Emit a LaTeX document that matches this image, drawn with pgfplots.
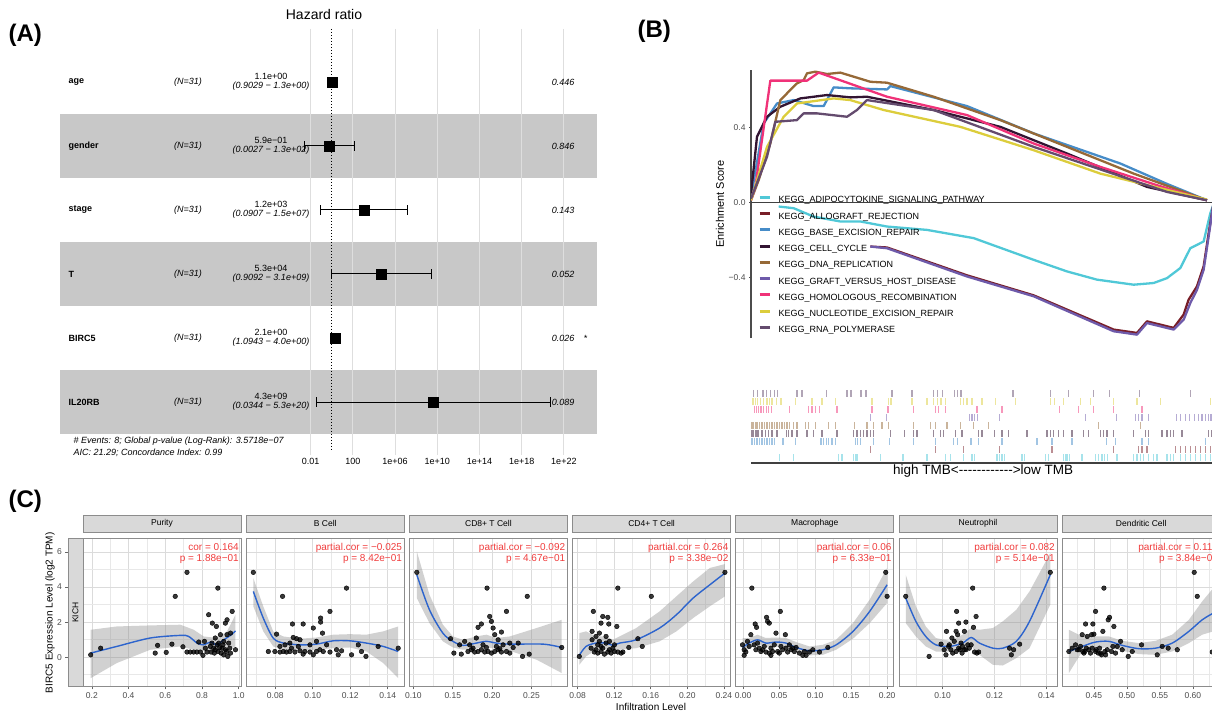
\documentclass[border=0pt]{standalone}
\usepackage{fontspec}
\setmainfont{Liberation Sans}
\newfontfamily\plainsans{Liberation Sans}[Ligatures=TeXOff]
\usepackage{pgfplots}
\pgfplotsset{compat=1.18}

\definecolor{bandgray}{RGB}{200,200,200}
\definecolor{stripgray}{RGB}{217,217,217}
\definecolor{corred}{RGB}{240,60,60}
\definecolor{loessblue}{RGB}{45,100,205}
\definecolor{cAdipo}{RGB}{80,200,215}
\definecolor{cAllo}{RGB}{120,30,40}
\definecolor{cBase}{RGB}{70,140,200}
\definecolor{cCell}{RGB}{50,20,50}
\definecolor{cDNA}{RGB}{150,105,55}
\definecolor{cGraft}{RGB}{110,90,170}
\definecolor{cHomo}{RGB}{240,50,120}
\definecolor{cNucl}{RGB}{220,205,60}
\definecolor{cRNA}{RGB}{100,75,110}

\newcommand{\fs}[2]{\fontsize{#1}{#2}\selectfont}

\pgfplotsset{
  facet/.style={
    scale only axis, width=158pt, height=148pt,
    ymin=-1.69, ymax=6.76, ytick={0,2,4,6}, minor ytick={-1,1,3,5}, yticklabels={},
    grid=both, major grid style={black!14, line width=0.55pt},
    minor grid style={black!9, line width=0.4pt},
    axis line style={black!45, line width=0.8pt},
    xtick pos=left, ytick style={draw=none}, tick align=outside,
    major tick length=2.6pt, minor tick length=0pt,
    xtick style={black!60, line width=0.6pt},
    xticklabel style={font=\fs{8.5}{9}, text=black!70},
    title style={at={(0.5,1)}, anchor=south, yshift=0.4pt, fill=stripgray,
      draw=black!45, line width=0.8pt, minimum width=158pt, minimum height=16.5pt,
      inner sep=0pt, font=\fs{8.5}{9}},
  },
  pts/.style={only marks, mark=*, mark size=2.3pt,
    mark options={draw=none, fill=black, fill opacity=0.78}},
  loess/.style={smooth, loessblue, line width=1.4pt},
  ribbon/.style={draw=none, fill=black!45, fill opacity=0.4},
  es/.style={line width=2.3pt, line join=round},
  rug/.style={only marks, mark=|, mark size=3.4pt,
    mark options={line width=1.1pt, opacity=0.5}},
  ci/.style={black, line width=1pt, mark=|, mark size=4.6pt, mark options={solid}},
}
\tikzset{cortext/.style={anchor=north east, align=right, text=corred,
  font=\fs{10}{10.5}, inner sep=0pt}}

\begin{document}
\begin{tikzpicture}[x=1pt,y=1pt]

% ================= (A) forest plot =================
\begin{axis}[
  at={(59.8pt,258pt)}, anchor=south west,
  scale only axis, width=537.2pt, height=426pt,
  set layers,
  xmode=log, xmin=1.66e-26, xmax=1.38e25,
  ymin=0.172, ymax=6.828, y dir=reverse,
  axis line style={draw=none},
  ytick=\empty,
  xtick={1e-2,1e2,1e6,1e10,1e14,1e18,1e22},
  xticklabels={0.01,100,1e+06,1e+10,1e+14,1e+18,1e+22},
  major tick length=0pt,
  xmajorgrids, grid style={black!13, line width=0.8pt},
  xticklabel style={font=\fs{9}{10}},
  clip=false,
]
\begin{pgfonlayer}{axis background}
\fill[bandgray] (axis cs:1.66e-26,1.5) rectangle (axis cs:1.38e25,2.5);
\fill[bandgray] (axis cs:1.66e-26,3.5) rectangle (axis cs:1.38e25,4.5);
\fill[bandgray] (axis cs:1.66e-26,5.5) rectangle (axis cs:1.38e25,6.5);
\end{pgfonlayer}
\addplot[black, line width=1pt, dash pattern=on 1pt off 2pt] coordinates {(1,0.172) (1,6.77)};
% confidence intervals
\addplot[ci] coordinates {(0.9029,1) (1.3,1)};
\addplot[ci] coordinates {(0.0027,2) (130,2)};
\addplot[ci] coordinates {(0.0907,3) (1.5e7,3)};
\addplot[ci] coordinates {(0.9092,4) (3.1e9,4)};
\addplot[ci] coordinates {(1.0943,5) (4.0,5)};
\addplot[ci] coordinates {(0.0344,6) (5.3e20,6)};
% hazard ratios
\addplot[only marks, mark=square*, mark size=5pt, black] coordinates {(1.1,1) (0.59,2) (1200,3) (53000,4) (2.1,5) (4.3e9,6)};
\end{axis}

\node[anchor=west, font=\bfseries\fs{24}{26}] at (5,678) {(A)};
\node[font=\fs{14}{15}] at (324,698) {Hazard ratio};

\begin{scope}[every node/.style={font=\fs{9}{8.6}}]
\node[anchor=west, font=\bfseries\fs{9}{8.6}] at (65,631) {age};
\node[anchor=west, font=\bfseries\fs{9}{8.6}] at (65,567) {gender};
\node[anchor=west, font=\bfseries\fs{9}{8.6}] at (65,503) {stage};
\node[anchor=west, font=\bfseries\fs{9}{8.6}] at (65,439) {T};
\node[anchor=west, font=\bfseries\fs{9}{8.6}] at (65,375) {BIRC5};
\node[anchor=west, font=\bfseries\fs{9}{8.6}] at (65,311) {IL20RB};
\foreach \yy in {631,567,503,439,375,311} \node[font=\itshape\fs{9}{8.6}] at (188,\yy) {(N=31)};
\node[align=center] at (271,631) {1.1e+00\\\itshape(0.9029 − 1.3e+00)};
\node[align=center] at (271,567) {5.9e−01\\\itshape(0.0027 − 1.3e+02)};
\node[align=center] at (271,503) {1.2e+03\\\itshape(0.0907 − 1.5e+07)};
\node[align=center] at (271,439) {5.3e+04\\\itshape(0.9092 − 3.1e+09)};
\node[align=center] at (271,375) {2.1e+00\\\itshape(1.0943 − 4.0e+00)};
\node[align=center] at (271,311) {4.3e+09\\\itshape(0.0344 − 5.3e+20)};
\node[anchor=east, font=\itshape\fs{9}{8.6}] at (578,631) {0.446};
\node[anchor=east, font=\itshape\fs{9}{8.6}] at (578,567) {0.846};
\node[anchor=east, font=\itshape\fs{9}{8.6}] at (578,503) {0.143};
\node[anchor=east, font=\itshape\fs{9}{8.6}] at (578,439) {0.052};
\node[anchor=east, font=\itshape\fs{9}{8.6}] at (578,375) {0.026};
\node[anchor=west, font=\itshape\fs{9}{8.6}] at (580,375) {*};
\node[anchor=east, font=\itshape\fs{9}{8.6}] at (578,311) {0.089};
\node[anchor=west, font=\itshape\fs{9}{8.6}] at (70,272) {\# Events: 8; Global p-value (Log-Rank): 3.5718e−07};
\node[anchor=west, font=\itshape\fs{9}{8.6}] at (70,260) {AIC: 21.29; Concordance Index: 0.99};
\end{scope}

% ================= (B) GSEA =================
\node[anchor=west, font=\bfseries\fs{24}{26}] at (634,682) {(B)};

\begin{axis}[
  at={(751pt,375pt)}, anchor=south west,
  scale only axis, width=464.3pt, height=268pt,
  xmin=152, xmax=1545, ymin=-0.724, ymax=0.709,
  axis x line=none, axis y line=left,
  axis line style={-, line width=1.3pt, black!70},
  xtick=\empty, ytick={-0.4,0,0.4}, yticklabels={−0.4,0.0,0.4},
  yticklabel style={font=\fs{8.5}{9}, text=black!70},
  tick align=outside, major tick length=2pt,
  ytick style={black!70, line width=0.8pt},
  ylabel={Enrichment Score},
  ylabel style={font=\fs{11}{12}, at={(axis description cs:-0.067,0.5)}, anchor=center},
  legend style={at={(0.0151,0.53)}, anchor=north west, draw=none, fill=none,
    inner sep=0pt, outer sep=0pt, row sep=7.75pt, font=\fs{9}{9},
    nodes={inner sep=0pt, text height=6.5pt, text depth=1.5pt}},
  legend cell align=left,
  legend image code/.code={\draw[#1, line width=3pt, line cap=butt] (0pt,3pt) -- (10pt,3pt); \path (18pt,0pt);},
]
\addplot[forget plot, black!75, line width=1.4pt] coordinates {(152,0) (1545,0)};
\addplot[es, cAdipo] coordinates {(235,-0.021) (280,-0.030) (340,-0.075) (420,-0.101) (480,-0.101) (560,-0.128) (680,-0.146) (820,-0.190) (1000,-0.306) (1100,-0.368) (1190,-0.412) (1300,-0.439) (1360,-0.430) (1400,-0.404) (1440,-0.350) (1470,-0.244) (1510,-0.208) (1530,-0.057) (1542,0)};
\addlegendentry{KEGG\_ADIPOCYTOKINE\_SIGNALING\_PATHWAY}
\addplot[es, cAllo] coordinates {(510,-0.235) (560,-0.240) (800,-0.389) (1000,-0.496) (1240,-0.679) (1310,-0.697) (1340,-0.635) (1420,-0.670) (1450,-0.599) (1465,-0.519) (1490,-0.448) (1510,-0.341) (1525,-0.164) (1540,0)};
\addlegendentry{KEGG\_ALLOGRAFT\_REJECTION}
\addplot[es, cBase] coordinates {(152,0.030) (190,0.423) (230,0.530) (280,0.548) (340,0.516) (370,0.516) (400,0.616) (450,0.611) (560,0.605) (570,0.623) (800,0.516) (1000,0.370) (1260,0.209) (1400,0.100) (1520,0.0125)};
\addlegendentry{KEGG\_BASE\_EXCISION\_REPAIR}
\addplot[es, cCell] coordinates {(152,0.048) (170,0.352) (200,0.459) (240,0.5125) (300,0.557) (380,0.575) (450,0.5625) (500,0.566) (700,0.495) (900,0.405) (1100,0.2625) (1340,0.084) (1520,0.0125)};
\addlegendentry{KEGG\_CELL\_CYCLE}
\addplot[es, cDNA] coordinates {(152,0.0125) (175,0.12) (210,0.316) (240,0.548) (265,0.593) (290,0.6375) (310,0.655) (320,0.691) (345,0.70) (380,0.6875) (420,0.695) (510,0.646) (560,0.641) (700,0.566) (900,0.441) (1100,0.298) (1300,0.155) (1520,0.0125)};
\addlegendentry{KEGG\_DNA\_REPLICATION}
\addplot[es, cGraft] coordinates {(510,-0.235) (560,-0.244) (800,-0.395) (1000,-0.501) (1240,-0.688) (1310,-0.706) (1340,-0.644) (1420,-0.679) (1450,-0.626) (1470,-0.537) (1490,-0.466) (1510,-0.359) (1525,-0.181) (1540,0)};
\addlegendentry{KEGG\_GRAFT\_VERSUS\_HOST\_DISEASE}
\addplot[es, cHomo] coordinates {(152,0.0125) (165,0.084) (210,0.652) (320,0.652) (355,0.695) (560,0.566) (800,0.468) (1000,0.316) (1200,0.191) (1370,0.093) (1520,0.0125)};
\addlegendentry{KEGG\_HOMOLOGOUS\_RECOMBINATION}
\addplot[es, cNucl] coordinates {(152,0.0125) (200,0.298) (250,0.459) (290,0.530) (400,0.557) (450,0.548) (550,0.495) (780,0.405) (1000,0.280) (1200,0.155) (1520,0.016)};
\addlegendentry{KEGG\_NUCLEOTIDE\_EXCISION\_REPAIR}
\addplot[es, cRNA] coordinates {(152,0.021) (200,0.245) (225,0.432) (290,0.441) (310,0.477) (350,0.477) (440,0.459) (470,0.495) (500,0.548) (700,0.495) (1000,0.298) (1400,0.057) (1520,0.0125)};
\addlegendentry{KEGG\_RNA\_POLYMERASE}
\end{axis}

\begin{axis}[
  at={(751pt,250pt)}, anchor=south west,
  scale only axis, width=464.3pt, height=78pt,
  xmin=152, xmax=1545, ymin=0, ymax=9.75,
  axis x line=bottom, axis y line=none,
  axis line style={-, line width=1.3pt, black!75},
  xtick=\empty, ytick=\empty,
  xlabel={\plainsans high TMB<------------>low TMB},
  xlabel style={font=\fs{13.5}{14}, at={(axis description cs:0.5,-0.099)}, anchor=center},
]
\addplot[rug, cRNA] table[row sep=\\, x=x, y expr=8.7] {x\\160\\172\\188\\198\\210\\222\\232\\290\\305\\378\\440\\452\\482\\497\\575\\635\\700\\712\\727\\762\\772\\782\\938\\1050\\1105\\1180\\1228\\1318\\1470\\};
\addplot[rug, cNucl] table[row sep=\\, x=x, y expr=7.7] {x\\158\\165\\172\\180\\190\\200\\208\\215\\228\\242\\285\\335\\365\\405\\515\\565\\572\\635\\680\\700\\712\\722\\735\\780\\790\\800\\815\\845\\885\\945\\1050\\1062\\1090\\1140\\1170\\1240\\1310\\1380\\1530\\};
\addplot[rug, cHomo] table[row sep=\\, x=x, y expr=6.7] {x\\162\\168\\175\\182\\190\\198\\205\\213\\268\\325\\335\\345\\358\\410\\515\\563\\640\\705\\715\\735\\830\\905\\1078\\1135\\1180\\1240\\1325\\};
\addplot[rug, cGraft] table[row sep=\\, x=x, y expr=5.7] {x\\510\\558\\808\\815\\822\\832\\898\\1155\\1248\\1305\\1315\\1325\\1345\\1428\\1440\\1455\\1468\\1482\\1495\\1505\\1515\\1525\\1532\\};
\addplot[rug, cDNA] table[row sep=\\, x=x, y expr=4.7] {x\\155\\160\\165\\170\\178\\185\\192\\200\\208\\215\\222\\230\\238\\245\\252\\260\\268\\280\\290\\315\\325\\345\\385\\405\\462\\500\\520\\545\\565\\640\\690\\705\\740\\780\\820\\865\\1195\\1320\\};
\addplot[rug, cCell] table[row sep=\\, x=x, y expr=3.7] {x\\155\\160\\165\\170\\175\\185\\195\\205\\215\\230\\258\\265\\275\\290\\320\\340\\365\\410\\460\\470\\480\\490\\500\\510\\520\\570\\612\\640\\650\\700\\720\\730\\765\\785\\835\\845\\882\\905\\925\\980\\1040\\1050\\1060\\1075\\1090\\1115\\1150\\1165\\1200\\1210\\1220\\1240\\1300\\1335\\1345\\1385\\1400\\1410\\1420\\1445\\1525\\1535\\};
\addplot[rug, cBase] table[row sep=\\, x=x, y expr=2.7] {x\\155\\162\\170\\178\\185\\192\\200\\208\\215\\222\\248\\285\\362\\370\\378\\385\\395\\405\\465\\472\\480\\520\\568\\640\\705\\760\\772\\812\\835\\905\\1010\\1055\\1115\\1218\\1245\\1325\\1345\\1515\\};
\addplot[rug, cAllo] table[row sep=\\, x=x, y expr=1.7] {x\\510\\705\\790\\898\\1055\\1240\\1315\\1325\\1340\\1425\\1440\\1455\\1470\\1485\\1500\\1515\\1530\\};
\addplot[rug, cAdipo] table[row sep=\\, x=x, y expr=0.7] {x\\238\\280\\415\\425\\460\\465\\470\\540\\608\\680\\735\\750\\790\\815\\822\\890\\898\\905\\912\\965\\972\\1035\\1045\\1090\\1095\\1100\\1108\\1145\\1185\\1195\\1205\\1212\\1222\\1250\\1300\\1310\\1320\\1330\\1345\\1360\\1370\\1400\\1410\\1420\\1440\\1455\\1470\\1485\\1500\\1515\\1530\\};
\end{axis}

% ================= (C) immune infiltration =================
\node[anchor=west, font=\bfseries\fs{24}{26}] at (5,212) {(C)};

\begin{axis}[
  at={(68pt,26.3pt)}, anchor=south west,
  scale only axis, width=15pt, height=148pt,
  xmin=0, xmax=1, ymin=-1.69, ymax=6.76,
  xtick=\empty, ytick={0,2,4,6}, yticklabels={0,2,4,6},
  ytick pos=left, tick align=outside, major tick length=2.7pt,
  ytick style={black!60, line width=0.6pt},
  yticklabel style={font=\fs{8.5}{9}, text=black!70},
  axis line style={black!45, line width=0.8pt},
  axis background/.style={fill=stripgray},
  ylabel={BIRC5 Expression Level (log2 TPM)},
  ylabel style={font=\fs{10}{11}, at={(axis description cs:-1.2,0.5)}, anchor=center},
]
\node[rotate=90, font=\fs{8.5}{9}] at (rel axis cs:0.5,0.5) {KICH};
\end{axis}

% Purity
\begin{axis}[facet, at={(83pt,26.3pt)}, anchor=south west, title={Purity},
  xmin=0.152, xmax=1.012, xtick={0.2,0.4,0.6,0.8,1.0},
  xticklabels={0.2,0.4,0.6,0.8,1.0}, minor xtick={0.3,0.5,0.7,0.9}]
\addplot[pts] coordinates {(0.194,0.13) (0.248,0.51) (0.545,0.23) (0.558,0.67) (0.605,0.27) (0.636,0.74) (0.654,3.47) (0.696,0.59) (0.718,4.84) (0.718,0.29) (0.736,0.29) (0.754,0.29) (0.772,0.29) (0.791,0.29) (0.782,0.86) (0.805,0.10) (0.813,0.90) (0.827,0.29) (0.836,2.42) (0.849,0.29) (0.856,1.94) (0.863,0.51) (0.872,1.09) (0.878,1.75) (0.886,3.94) (0.887,0.32) (0.891,0.80) (0.900,1.28) (0.904,0.23) (0.909,0.51) (0.918,0.90) (0.918,0.13) (0.927,1.94) (0.927,0.42) (0.936,2.13) (0.936,1.28) (0.940,0.04) (0.945,0.80) (0.951,0.51) (0.955,1.37) (0.964,2.61) (0.982,0.42) (0.818,0.51) (0.845,0.61) (0.867,0.23) (0.882,0.70) (0.914,0.70) (0.933,0.32) (0.872,0.42) (0.854,0.80) (0.896,0.55) (0.955,0.23)};
\addplot[ribbon] coordinates {(0.194,1.56) (0.336,1.75) (0.518,1.81) (0.682,1.85) (0.755,1.56) (0.809,1.18) (0.882,1.09) (0.936,1.47) (0.982,2.42) (0.982,0.61) (0.936,0.42) (0.882,0.29) (0.827,0.32) (0.755,0.42) (0.682,0.61) (0.518,0.42) (0.336,-0.34) (0.194,-1.20)};
\addplot[loess] coordinates {(0.194,0.23) (0.336,0.61) (0.518,1.09) (0.682,1.24) (0.727,1.18) (0.773,0.80) (0.809,0.70) (0.845,0.86) (0.882,0.70) (0.918,0.99) (0.955,1.24) (0.982,1.50)};
\node[cortext] at (rel axis cs:0.987,0.968) {cor = 0.164\\p = 1.88e−01};
\end{axis}

% B Cell
\begin{axis}[facet, at={(246.2pt,26.3pt)}, anchor=south west, title={B Cell},
  xmin=0.0645, xmax=0.1488, xtick={0.08,0.10,0.12,0.14},
  xticklabels={0.08,0.10,0.12,0.14}, minor xtick={0.07,0.09,0.11,0.13}]
\addplot[pts] coordinates {(0.0683,4.84) (0.0839,3.47) (0.0892,1.89) (0.0949,1.89) (0.1180,3.94) (0.1092,2.61) (0.1042,2.23) (0.1042,2.00) (0.1003,1.66) (0.1052,1.37) (0.0896,1.12) (0.0914,1.05) (0.0807,1.31) (0.0763,0.32) (0.0798,0.32) (0.0825,0.29) (0.0843,0.32) (0.0860,0.29) (0.0878,0.32) (0.0905,0.29) (0.0932,0.36) (0.0958,0.32) (0.0985,0.29) (0.1020,0.32) (0.1056,0.32) (0.1092,0.29) (0.1127,0.42) (0.1154,0.36) (0.0825,0.61) (0.0852,0.70) (0.0878,0.80) (0.0932,0.99) (0.1020,0.90) (0.1074,0.70) (0.1207,0.13) (0.1243,0.70) (0.1260,0.32) (0.1284,0.04) (0.1349,0.61) (0.1456,0.51) (0.0949,0.17) (0.1003,0.13) (0.1038,0.42) (0.0887,0.51) (0.0923,0.61) (0.1136,0.13) (0.0985,0.70)};
\addplot[ribbon] coordinates {(0.0683,4.51) (0.0736,2.90) (0.0789,1.47) (0.0843,1.18) (0.0932,1.05) (0.1020,1.12) (0.1109,1.28) (0.1198,1.31) (0.1287,1.28) (0.1376,1.47) (0.1456,1.75) (0.1456,-1.20) (0.1376,-0.34) (0.1287,0.32) (0.1198,0.55) (0.1109,0.51) (0.1020,0.42) (0.0932,0.36) (0.0843,0.42) (0.0789,0.61) (0.0736,1.47) (0.0683,2.90)};
\addplot[loess] coordinates {(0.0683,3.75) (0.0736,2.23) (0.0789,1.09) (0.0843,0.80) (0.0932,0.70) (0.1020,0.74) (0.1109,0.93) (0.1198,0.93) (0.1287,0.80) (0.1376,0.61) (0.1456,0.32)};
\node[cortext] at (rel axis cs:0.987,0.968) {partial.cor = −0.025\\p = 8.42e−01};
\end{axis}

% CD8+ T Cell
\begin{axis}[facet, at={(409.4pt,26.3pt)}, anchor=south west, title={CD8+ T Cell},
  xmin=0.0949, xmax=0.2956, xtick={0.10,0.15,0.20,0.25},
  xticklabels={0.10,0.15,0.20,0.25}, minor xtick={0.125,0.175,0.225,0.275}]
\addplot[pts] coordinates {(0.1043,4.84) (0.1472,1.05) (0.1514,0.23) (0.1608,0.17) (0.1693,0.32) (0.1736,0.42) (0.1778,0.29) (0.1821,0.32) (0.1863,0.42) (0.1906,0.29) (0.1948,0.32) (0.1991,0.23) (0.2033,0.32) (0.2076,0.42) (0.2118,0.29) (0.2182,0.32) (0.2224,0.23) (0.1714,0.70) (0.1799,1.09) (0.1821,1.70) (0.1863,1.89) (0.1935,3.94) (0.1969,2.32) (0.1991,2.04) (0.2012,1.66) (0.2033,1.28) (0.2076,0.99) (0.2118,1.43) (0.2182,2.61) (0.2224,0.80) (0.2331,0.80) (0.2386,0.04) (0.2446,3.47) (0.2471,0.17) (0.2884,0.55) (0.1587,0.70) (0.1651,0.90) (0.1884,0.70) (0.2054,0.61) (0.2139,0.70) (0.2267,0.55) (0.1757,0.51) (0.1927,0.55) (0.2097,0.48)};
\addplot[ribbon] coordinates {(0.1043,6.04) (0.1204,3.56) (0.1374,1.85) (0.1502,1.18) (0.1629,0.99) (0.1799,1.18) (0.1927,1.28) (0.2054,1.09) (0.2224,1.18) (0.2565,1.66) (0.2884,2.13) (0.2884,-0.91) (0.2565,-0.15) (0.2224,0.36) (0.2054,0.48) (0.1927,0.55) (0.1799,0.48) (0.1629,0.42) (0.1502,0.55) (0.1374,0.90) (0.1204,1.94) (0.1043,3.37)};
\addplot[loess] coordinates {(0.1043,4.70) (0.1204,2.70) (0.1374,1.37) (0.1502,0.90) (0.1629,0.67) (0.1799,0.80) (0.1927,0.90) (0.2054,0.80) (0.2224,0.74) (0.2650,0.74) (0.2884,0.55)};
\node[cortext] at (rel axis cs:0.987,0.968) {partial.cor = −0.092\\p = 4.67e−01};
\end{axis}

% CD4+ T Cell
\begin{axis}[facet, at={(572.6pt,26.3pt)}, anchor=south west, title={CD4+ T Cell},
  xmin=0.0745, xmax=0.2474, xtick={0.08,0.12,0.16,0.20,0.24},
  xticklabels={0.08,0.12,0.16,0.20,0.24}, minor xtick={0.10,0.14,0.18,0.22}]
\addplot[pts] coordinates {(0.0818,0.04) (0.0958,1.47) (0.0972,2.61) (0.0958,0.99) (0.1001,1.18) (0.1038,1.37) (0.1056,1.94) (0.1075,2.32) (0.1130,2.27) (0.1141,1.89) (0.1020,0.70) (0.1056,0.61) (0.1111,0.80) (0.1148,0.90) (0.1203,0.70) (0.0983,0.29) (0.1020,0.23) (0.1056,0.32) (0.1093,0.17) (0.1130,0.29) (0.1166,0.23) (0.1203,0.32) (0.1240,0.29) (0.1276,0.23) (0.1001,0.42) (0.1075,0.51) (0.1148,0.42) (0.1229,1.75) (0.1240,3.94) (0.1295,0.29) (0.1360,0.55) (0.1459,1.05) (0.1507,0.61) (0.1606,3.47) (0.2412,4.84) (0.1111,1.18) (0.1038,0.90) (0.1185,0.51) (0.0947,0.51)};
\addplot[ribbon] coordinates {(0.0818,1.37) (0.0892,1.47) (0.1001,1.18) (0.1111,1.18) (0.1185,0.99) (0.1258,1.18) (0.1441,1.66) (0.1697,2.61) (0.1881,3.47) (0.2064,4.32) (0.2247,5.09) (0.2412,5.31) (0.2412,3.47) (0.2247,2.90) (0.2064,2.23) (0.1881,1.47) (0.1697,0.90) (0.1441,0.51) (0.1258,0.42) (0.1185,0.32) (0.1111,0.42) (0.1001,0.42) (0.0892,0.04) (0.0818,-0.44)};
\addplot[loess] coordinates {(0.0818,0.10) (0.0892,0.61) (0.1001,0.80) (0.1111,0.80) (0.1185,0.67) (0.1258,0.80) (0.1441,0.99) (0.1697,1.66) (0.1881,2.42) (0.2064,3.37) (0.2247,4.13) (0.2412,4.80)};
\node[cortext] at (rel axis cs:0.987,0.968) {partial.cor = 0.264\\p = 3.38e−02};
\end{axis}

% Macrophage
\begin{axis}[facet, at={(735.8pt,26.3pt)}, anchor=south west, title={Macrophage},
  xmin=-0.0102, xmax=0.2092, xtick={0,0.05,0.10,0.15,0.20},
  xticklabels={0.00,0.05,0.10,0.15,0.20}, minor xtick={0.025,0.075,0.125,0.175}]
\addplot[pts] coordinates {(-0.0009,0.70) (0.0014,0.42) (0.0037,0.29) (0.0060,0.90) (0.0084,0.61) (0.0107,1.28) (0.0121,3.94) (0.0153,0.70) (0.0167,1.89) (0.0186,1.70) (0.0223,0.51) (0.0246,0.32) (0.0270,0.42) (0.0293,0.61) (0.0316,0.29) (0.0325,2.27) (0.0339,2.04) (0.0363,1.94) (0.0386,0.51) (0.0409,0.32) (0.0432,0.70) (0.0456,1.37) (0.0479,0.32) (0.0502,0.23) (0.0516,2.61) (0.0549,0.42) (0.0586,1.28) (0.0595,0.51) (0.0618,0.29) (0.0665,0.42) (0.0711,0.32) (0.0735,0.55) (0.0781,0.23) (0.0828,0.10) (0.0851,0.32) (0.0874,0.10) (0.0921,0.29) (0.0967,0.42) (0.1060,0.29) (0.1176,0.55) (0.1980,4.84) (0.1999,3.47) (0.0014,0.10) (0.0177,0.42) (0.0363,0.23) (0.0386,0.10) (0.0642,0.70) (0.0688,0.51) (0.0200,0.80) (0.0525,0.61)};
\addplot[ribbon] coordinates {(-0.0009,1.09) (0.0084,1.09) (0.0200,1.28) (0.0316,1.09) (0.0456,1.12) (0.0595,1.09) (0.0735,0.86) (0.0921,0.61) (0.1106,0.70) (0.1292,0.99) (0.1525,1.94) (0.1757,3.28) (0.1999,5.09) (0.1999,3.09) (0.1757,1.94) (0.1525,1.05) (0.1292,0.42) (0.1106,0.13) (0.0921,0.10) (0.0735,0.29) (0.0595,0.51) (0.0456,0.61) (0.0316,0.55) (0.0200,0.74) (0.0084,0.51) (-0.0009,0.04)};
\addplot[loess] coordinates {(-0.0009,0.55) (0.0084,0.80) (0.0200,0.99) (0.0316,0.80) (0.0456,0.86) (0.0595,0.80) (0.0735,0.55) (0.0921,0.36) (0.1106,0.42) (0.1292,0.70) (0.1525,1.47) (0.1757,2.61) (0.1999,4.13)};
\node[cortext] at (rel axis cs:0.987,0.968) {partial.cor = 0.06\\p = 6.33e−01};
\end{axis}

% Neutrophil
\begin{axis}[facet, at={(899pt,26.3pt)}, anchor=south west, title={Neutrophil},
  xmin=0.0832, xmax=0.1441, xtick={0.10,0.12,0.14},
  xticklabels={0.10,0.12,0.14}, minor xtick={0.09,0.11,0.13}]
\addplot[pts] coordinates {(0.0858,3.47) (0.0948,0.04) (0.0994,0.74) (0.1006,0.42) (0.1013,0.13) (0.1015,1.47) (0.1023,0.61) (0.1032,0.42) (0.1036,1.09) (0.1039,0.23) (0.1045,0.90) (0.1052,1.47) (0.1058,1.28) (0.1062,0.51) (0.1054,2.61) (0.1062,1.94) (0.1067,0.42) (0.1071,0.80) (0.1075,0.23) (0.1077,0.61) (0.1084,1.47) (0.1090,2.00) (0.1090,0.42) (0.1097,0.70) (0.1116,3.94) (0.1119,1.70) (0.1123,0.29) (0.1129,2.32) (0.1132,0.23) (0.1139,0.29) (0.1258,0.51) (0.1265,0.13) (0.1274,0.42) (0.1297,0.74) (0.1415,4.84) (0.1103,0.51) (0.1026,0.70) (0.1052,0.32) (0.1084,0.42) (0.1110,0.70)};
\addplot[ribbon] coordinates {(0.0858,4.70) (0.0897,2.90) (0.0935,1.75) (0.0974,1.09) (0.1026,0.93) (0.1077,1.28) (0.1110,1.66) (0.1142,1.56) (0.1194,1.66) (0.1232,2.04) (0.1284,2.70) (0.1335,3.75) (0.1415,5.94) (0.1415,2.99) (0.1335,0.51) (0.1284,-0.06) (0.1232,-0.48) (0.1194,-0.44) (0.1142,0.13) (0.1110,0.61) (0.1077,0.42) (0.1026,0.32) (0.0974,0.32) (0.0935,0.61) (0.0897,1.18) (0.0858,1.94)};
\addplot[loess] coordinates {(0.0858,3.37) (0.0897,2.04) (0.0935,1.18) (0.0974,0.70) (0.1026,0.61) (0.1077,0.80) (0.1110,1.12) (0.1142,0.80) (0.1194,0.51) (0.1232,0.51) (0.1284,0.90) (0.1335,2.04) (0.1415,4.70)};
\node[cortext] at (rel axis cs:0.987,0.968) {partial.cor = 0.082\\p = 5.14e−01};
\end{axis}

% Dendritic Cell
\begin{axis}[facet, at={(1062.2pt,26.3pt)}, anchor=south west, title={Dendritic Cell},
  xmin=0.402, xmax=0.6414, xtick={0.45,0.50,0.55,0.60},
  xticklabels={0.45,0.50,0.55,0.60}, minor xtick={0.425,0.475,0.525,0.575,0.625}]
\addplot[pts] coordinates {(0.4121,0.32) (0.4247,0.42) (0.4298,0.61) (0.4323,1.28) (0.4333,0.32) (0.4348,0.23) (0.4374,1.89) (0.4384,0.51) (0.4399,1.18) (0.4424,0.42) (0.4449,0.23) (0.4465,1.28) (0.4485,1.89) (0.4500,1.31) (0.4525,2.61) (0.4535,0.42) (0.4566,0.23) (0.4586,0.51) (0.4616,0.13) (0.4636,1.47) (0.4652,3.94) (0.4667,0.32) (0.4677,0.13) (0.4702,0.42) (0.4717,2.13) (0.4737,2.27) (0.4768,0.32) (0.4788,0.61) (0.4803,1.75) (0.4828,0.23) (0.4904,0.90) (0.4929,0.42) (0.5020,0.04) (0.5081,0.32) (0.5222,0.70) (0.5460,0.13) (0.5535,0.61) (0.5626,0.51) (0.5763,0.42) (0.6020,4.84) (0.6066,3.47) (0.6293,0.29) (0.4222,0.70) (0.4273,0.42) (0.4364,0.32) (0.4475,0.51) (0.4601,0.23) (0.4854,0.61) (0.4172,0.51) (0.4525,0.32)};
\addplot[ribbon] coordinates {(0.4121,1.56) (0.4323,1.18) (0.4525,1.18) (0.4727,1.18) (0.4929,0.93) (0.5182,0.80) (0.5434,0.93) (0.5687,1.28) (0.5939,2.13) (0.6141,3.18) (0.6308,3.94) (0.6308,1.47) (0.6141,1.28) (0.5939,0.80) (0.5687,0.32) (0.5434,0.13) (0.5182,0.17) (0.4929,0.36) (0.4727,0.55) (0.4525,0.51) (0.4323,0.32) (0.4121,-0.91)};
\addplot[loess] coordinates {(0.4121,0.32) (0.4323,0.61) (0.4525,0.86) (0.4727,0.90) (0.4929,0.67) (0.5182,0.48) (0.5434,0.51) (0.5687,0.80) (0.5939,1.47) (0.6141,2.13) (0.6308,2.51)};
\node[cortext] at (rel axis cs:0.987,0.968) {partial.cor = 0.118\\p = 3.84e−01};
\end{axis}

\node[font=\fs{10}{11}] at (651,6) {Infiltration Level};

\pgfresetboundingbox
\useasboundingbox (0,0) rectangle (1212,713);
\end{tikzpicture}
\end{document}
